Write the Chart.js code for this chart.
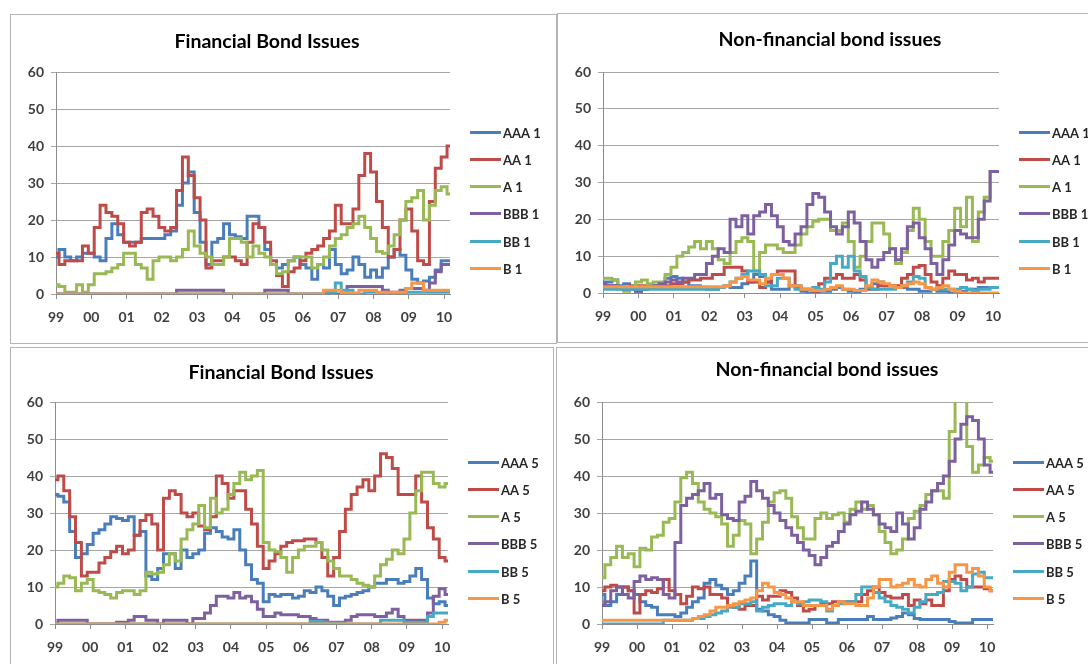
<!DOCTYPE html>
<html>
<head>
<meta charset="utf-8">
<script src="https://cdn.jsdelivr.net/npm/chart.js@4.4.1/dist/chart.umd.min.js"></script>
<style>
  body { margin: 0; background: #fff; width: 1088px; height: 664px; overflow: hidden; position: relative; }
  .panel { position: absolute; border: 1px solid #b4b4b4; background: #fff; }
  .panel canvas { display: block; }
</style>
</head>
<body>
<div class="panel" style="left:10px;top:14px"><canvas id="c1" width="545" height="328"></canvas></div>
<div class="panel" style="left:557px;top:13px"><canvas id="c2" width="540" height="328"></canvas></div>
<div class="panel" style="left:10px;top:347px"><canvas id="c3" width="542" height="330"></canvas></div>
<div class="panel" style="left:556px;top:347px"><canvas id="c4" width="540" height="330"></canvas></div>

<script>
// tick labels (one per year) and the bi-monthly points between them
const years = ['99', '00', '01', '02', '03', '04', '05', '06', '07', '08', '09', '10'];
const months = ['Jan', 'Mar', 'May', 'Jul', 'Sep', 'Nov'];
const periods = years.flatMap(y => months.map(m => m + ' ' + y)).slice(0, 68);

const ratings = ['AAA', 'AA', 'A', 'BBB', 'BB', 'B'];
const colors = ['#4a7ebb', '#be4b48', '#98b954', '#7d60a0', '#46aac5', '#f79646'];

// Financial bond issues, 1
const finAAA1 = [10,12,10,9,10,11, 11,10,9,15,19,16, 14,14,14,15,15,15, 15,16,17,24,30,33, 22,14,8,14,15,19, 16,15.5,15,21,21,18, 12,8,7,8,9,10, 8,7,4,8,7,12, 8,5.5,6.5,10,8,4.5, 6.5,4.5,7,10,12,10.5, 6.5,4,3,3.5,4.5,6.5, 9,9];
const finAA1 = [11,8,9,9,9,13, 11,18,24,22,21,19, 14,13,14,22,23,21, 18,17,18,28,37,32, 26,20,7,9,9,10, 10,9,8,14,19,18, 14,9,5,2,6,7, 9,11,12,13,15,17, 24,19,19,23,32,38, 33,25,18,10,12,20, 23,17,9,8,25,34, 37,40];
const finA1 = [2.5,2,0.5,0.5,2.5,0.5, 2.5,5.5,5.5,6,7,8, 11,11,8,7,4,9, 10,10,9,10,12,17, 13,11,10,8,8,10, 15,15,14,10,13,11, 10,8,5.5,6,9,10, 10,10,7,8,10,13, 15,16,18,19,21,18, 15,11.5,11,13,16,20, 25,26,28,20,24,28, 29,27];
const finBBB1 = [0,0,0,0,0,0, 0,0,0,0,0,0, 0,0,0,0,0,0, 0,0,0,1,1,1, 1,1,1,1,1,0, 0,0,0,0,0,0, 1,1,1,1,0,0, 0,0,0,0,0,0, 0,0,2,2,2,2, 2,2,1,0.5,0.5,1, 1.5,1.5,1.5,1,3,6, 8,8];
const finBB1 = [0,0,0,0,0,0, 0,0,0,0,0,0, 0,0,0,0,0,0, 0,0,0,0,0,0, 0,0,0,0,0,0, 0,0,0,0,0,0, 0,0,0,0,0,0, 0,0,0,0,0.5,0.5, 3,1,1,0,0,0.5, 0.5,0,0,0,0,0, 0.5,0.5,0.5,0.5,0.5,0.5, 0.5,0.5];
const finB1 = [0,0,0,0,0,0, 0,0,0,0,0,0, 0,0,0,0,0,0, 0,0,0,0,0,0, 0,0,0,0,0,0, 0,0,0,0,0,0, 0,0,0,0,0,0, 0,0,0,0,1,1, 1,0.3,0.3,0.3,1,1, 1,0.5,0.5,0.5,0.5,0.5, 1.5,3,3,1,1,1, 1,1];

// Non-financial bond issues, 1
const nonAAA1 = [3,3,3.5,2,2.5,1.5, 0.5,1,1.5,2,2.5,4, 4.5,4,3,2,2,1.5, 1,1,1.5,2,1.5,1.5, 2.5,3,5,4.5,3,1, 1,1,2,2,0.5,0, 0,0.5,0.5,1,1.5,1, 0.5,0,1,1.5,2.5,3, 2,2,1.5,1.5,1,1, 0.5,0.5,1,0.5,0.5,0, 0,0.5,1,1,1.5,1.5, 1.5,1.5];
const nonAA1 = [2,2,2,1.5,1.5,2, 2,2,2,2,2,2, 2.5,2.5,3,3.5,3.5,4, 4,5,5,7,7,7, 6,3,3,1.5,3,5, 6,6,6,1.5,1,1, 0.5,2.5,4,4,5,4, 4,5,3.5,1,1,2, 2,2,2,4,5,7, 7.5,5,3,2,4,6, 5,5,3.5,4,3,4, 4,4];
const nonA1 = [4,4,3.5,1,0.5,1.5, 3,3.5,2.5,3,3,5, 7,10,11,12.5,14,12, 14,12,9,8,11,14, 15,14,6,11,13,13, 12,11,11,13,16,18, 19.5,20,20,17,17,19, 14,7,10,14,19,19, 16,12,8,11,17,23, 20,14,10,10,14,17, 23,18,26,14,22,26, 33,33];
const nonBBB1 = [2.5,2,2,1.5,1,1, 0.5,1,1.5,2,2.5,3, 3.5,3,4,4,5,5, 8,10,12,11,20,18, 21,16,21,22,24,21, 18,14,13,16,18,24, 27,26,22,18,16,18, 22,19,14,9,7,9, 11,12,9,12,18,19, 15,12,8,5,9,13, 17,16,15,15,20,25, 33,33];
const nonBB1 = [1,1,1,1,1,1, 1,1,1,1,1,1, 1,1,1,1,1,1, 1,1,1.5,2,3,4, 5,6,6,5,2,2, 4,4,2,1,1,1, 1.5,1,3,8,10,7, 10,6,4.5,1.5,1,1, 1,1,1.5,2,3,4.5, 4,1.5,1,1,1,1, 1,1.5,1,0.7,1,1, 1.5,1.5];
const nonB1 = [1.7,1.7,1.7,1.7,1.7,1.7, 1.7,1.7,1.7,1.7,1.7,1.7, 1.7,1.7,1.7,1.7,1.7,1.7, 1.7,1.7,1.7,2,3,4, 4.5,3.5,3.5,2.5,4,5, 5,4,2,2,1,1, 0.7,0.7,1,1.5,2,1, 1,0.7,0.7,2,3.5,3, 2.5,2,1.5,2,2.5,3, 2.5,1.5,1,1.5,2,1, 0.5,0,0,0,0,0, 0,0];

// Financial bond issues, 5
const finAAA5 = [35,34.5,33,25,18,19, 21.5,24.5,25.5,27,29,28.5, 28,29,24,25,13,12, 15,19,19,15,20,18, 19,20,24.5,26,25,23.5, 23,25.5,20,16,12,11, 6,8,7.5,8,8,7, 7.5,9,8.5,10,9,7.5, 5,7,7.5,8,8.5,9, 10,11,11,12,12,11, 11.5,13,15,12,7,5.5, 6,5];
const finAA5 = [39,40,36,29,22,13, 14,14,16.5,18,19.5,21, 19,20,24,28,29.5,27, 20,34,36,35,30,29, 30,26.5,25.5,29,40,38, 34,36,36,31,27,21, 15,17,19,21,22,22.5, 22.5,23,23,22,18,13, 18,25,31,35,37,39, 36,40,46,45,42,35, 35,35,40,33,26,23, 18,17];
const finA5 = [10,11,13,12.5,9,11, 12,9,8.5,8,7,8.5, 9,9,8,9,14,13.5, 14,16,19,17,23,25.5, 27,32,26,34,30,31, 35,38,41,39,40,41.5, 22,20,19.5,18,14,18, 20,21,21,22,20,17, 15,13,13,12,11,10.5, 10,13,16,17.5,20,19, 23,30,36,41,41,38, 37,38];
const finBBB5 = [0,1,1,1,1,1, 0,0,0,0,0,0.5, 0.5,1,2,2,1,1, 0,1,1,1,1,0, 1.5,1.5,3,5,7.5,7.5, 7,8.5,7,7.5,6,4, 2,2,3,2.5,2.5,2.5, 2,2,1.5,1,1,0.5, 0.5,0.5,1,2,2.5,2.5, 2.5,2,2,3,4,2, 1,1,1,1,3,7.5, 9.5,8];
const finBB5 = [0,0,0,0,0,0, 0,0,0,0,0,0, 0,0,0,0,0,0, 0,0,0,0,0,0, 0,0,0,0,0,0, 0,0,0,0,0,0, 0,0,0,0,0,0, 0,0,0.7,0.7,0.5,0.3, 0.3,0.3,0,0,0,0, 0,0,1,1,1,1, 0.5,0.5,0.5,0.5,2,3, 3,3];
const finB5 = [0,0,0,0,0,0, 0,0,0,0,0,0, 0,0,0,0,0,0, 0,0,0,0,0,0, 0,0,0,0,0,0, 0,0,0,0,0,0, 0,0,0,0,0,0, 0,0,0,0,0,0, 0,0,0,0,0,0, 0,0,0,0,0,0, 0,0,0,0,0,0, 0.5,1];

// Non-financial bond issues, 5
const nonAAA5 = [8,5,6,8,10,9, 8,6,5,4.5,2.5,2.5, 2.5,2,3,4.5,6,7, 11,12,10.5,9.5,8,9, 11,13,17,4,3.5,2.5, 2,1,0.3,0.3,0.3,0.3, 1.2,1.2,1.2,0.3,0.3,1.2, 1.2,1.2,1.2,1.2,2,1.2, 1.2,1.2,1.6,2,3,2.5, 1.5,1.2,1.2,1.2,1.2,1.2, 0.7,0.3,0.3,0.3,1.2,1.2, 1.2,1.2];
const nonAA5 = [9,10,10.5,10,10,9, 3,8,9,8.5,9.5,12, 9,8,5.5,7.5,10,9.5, 10,8,8,7,5,4.5, 4,5,5,7.5,6.5,7.5, 7.5,9,8.5,7,5,3.5, 4,5,5.5,5.5,6,6, 6,6,6,8,9,10, 8.5,7.5,7,7,8,5, 6.5,5.5,6.5,5,5,9, 12,13,12,10,10,10, 9.5,9];
const nonA5 = [12.5,16,18,21,18,19, 15.5,20.5,20,23.5,24,27.5, 28.5,33,39.5,41,38,33, 31,30,29,27,21,24, 28,27,19,23,27.5,33, 35.5,36,34,29,26,23, 23,28.5,30,28.5,29.5,30, 27.5,31,33,31,32,29.5, 25,22,19,20,23,28.5, 30.5,32,35,36,36,34, 52,62,62,48,41,43, 45,44];
const nonBBB5 = [5,6,9,10,8,7, 11.5,13,12,12.5,12,8, 7,22,32,34,35,36, 38,34,35,29.5,28.5,28, 33,34.5,38.5,36,34,32, 30,28,26,24,22,20, 18.5,16,18,21,22,25, 27,29.5,30.5,33,31,29.5, 27,26,25,30,27,23, 26,31,33,36,38,40, 44,50,54,56,55,50, 43,41];
const nonBB5 = [0,0,0,0,0,0, 0,0,0,0,0,1, 1,1,1,1,1.5,1.5, 2,2.5,3,3.5,4.5,4.5, 5.5,5.5,6,3.5,4.5,5, 5.5,5.5,5,6,5.5,6, 6.5,6.5,6,3.5,5,5.5, 6,6,8,10,10,8.5, 7,6,5,4.5,4,3, 4.5,6,8,8,8.5,11.5, 11.5,11,9,10,13.5,14, 12.5,12.5];
const nonB5 = [1,1,1,1,1,1, 1,1,1,1,1,1, 1,1,1,1,1.5,2, 2.5,3.5,4.5,4.5,5,5.5, 6,6.5,7,9,11,10, 8.5,8,7,6,6,5, 5,5,5,4,5,6, 5.5,5.5,5,5,7,10, 12,12,10,10.5,11,12, 10.5,10,12,13,11,10, 14,16,16,14,15,13, 10,9];

Chart.defaults.font.family = "Lato, 'Open Sans', sans-serif";

// title and legend drawn next to the plot, the way the spreadsheet places them
const panelDecor = {
  id: 'panelDecor',
  afterDraw(chart, args, opts) {
    const ctx = chart.ctx;
    const a = chart.chartArea;
    ctx.save();
    ctx.fillStyle = '#000';
    ctx.font = "bold 19.5px Lato, 'Open Sans', sans-serif";
    ctx.textAlign = 'center';
    ctx.textBaseline = 'middle';
    ctx.fillText(opts.title, opts.titleX, opts.titleY);

    ctx.font = "bold 13px Lato, 'Open Sans', sans-serif";
    ctx.textAlign = 'left';
    chart.data.datasets.forEach((ds, i) => {
      const y = Math.round(a.top + 59.5 + i * 27.3) + 0.5;
      ctx.strokeStyle = ds.borderColor;
      ctx.lineWidth = 3;
      ctx.beginPath();
      ctx.moveTo(a.right + 20, y);
      ctx.lineTo(a.right + 51, y);
      ctx.stroke();
      ctx.fillStyle = '#262626';
      ctx.fillText(ds.label, a.right + 53, y + 1);
    });
    ctx.restore();
  }
};

function makePanel(id, series, suffix, title, titleX, titleY, area) {
  const canvas = document.getElementById(id);
  const W = canvas.width, H = canvas.height;
  const datasets = series.map((values, i) => ({
    label: ratings[i] + ' ' + suffix,
    data: values,
    borderColor: colors[i],
    backgroundColor: colors[i],
    borderWidth: 3,
    pointRadius: 0,
    stepped: 'middle',
    fill: false,
    order: series.length - i
  }));

  new Chart(canvas, {
    type: 'line',
    data: { labels: periods, datasets: datasets },
    options: {
      responsive: false,
      animation: false,
      layout: {
        padding: { left: 0, top: area.top, right: W - area.right, bottom: H - area.bottom - 40 }
      },
      plugins: {
        legend: { display: false },
        tooltip: { enabled: false },
        panelDecor: { title: title, titleX: titleX, titleY: titleY }
      },
      scales: {
        x: {
          afterFit: s => { s.height = 40; },
          grid: { drawOnChartArea: false, drawTicks: true, tickLength: 5, color: '#8c8c8c' },
          border: { color: '#8c8c8c' },
          ticks: {
            autoSkip: false,
            maxRotation: 0,
            padding: 10,
            color: '#404040',
            font: { size: 14, weight: 'bold' },
            callback: (v, i) => (i % 6 === 0 ? years[i / 6] : null)
          }
        },
        y: {
          min: 0,
          max: 60,
          afterFit: s => { s.width = area.left; },
          grid: { color: '#a6a6a6', tickLength: 5 },
          border: { color: '#8c8c8c' },
          ticks: {
            stepSize: 10,
            padding: 7,
            color: '#404040',
            font: { size: 14, weight: 'bold' }
          }
        }
      }
    },
    plugins: [panelDecor]
  });
}

makePanel('c1', [finAAA1, finAA1, finA1, finBBB1, finBB1, finB1], '1',
  'Financial Bond Issues', 256, 27, { left: 45, top: 57, right: 439, bottom: 279 });
makePanel('c2', [nonAAA1, nonAA1, nonA1, nonBBB1, nonBB1, nonB1], '1',
  'Non-financial bond issues', 272, 26, { left: 45, top: 58, right: 441, bottom: 279 });
makePanel('c3', [finAAA5, finAA5, finA5, finBBB5, finBB5, finB5], '5',
  'Financial Bond Issues', 270, 25, { left: 44, top: 54, right: 437, bottom: 276 });
makePanel('c4', [nonAAA5, nonAA5, nonA5, nonBBB5, nonBB5, nonB5], '5',
  'Non-financial bond issues', 270, 22, { left: 45, top: 54, right: 436, bottom: 276 });
</script>
</body>
</html>
